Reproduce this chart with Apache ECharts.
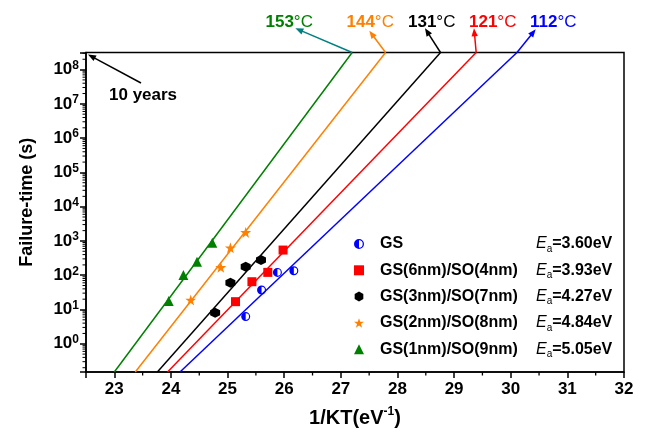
<!DOCTYPE html>
<html><head><meta charset="utf-8">
<script src="https://cdn.jsdelivr.net/npm/echarts@6/dist/echarts.min.js"></script>
<style>html,body{margin:0;padding:0;background:#fff}#c{width:646px;height:434px}</style>
</head><body><div id="c"></div>
<script>
const FONT = '"Liberation Sans", Arial, sans-serif';

// ---- data ----
const seriesNames = ['GS', 'GS(6nm)/SO(4nm)', 'GS(3nm)/SO(7nm)', 'GS(2nm)/SO(8nm)', 'GS(1nm)/SO(9nm)'];
const activationEnergies = ['3.60eV', '3.93eV', '4.27eV', '4.84eV', '5.05eV'];
const gsPoints  = [[25.32, 6.2], [25.60, 37], [25.88, 121], [26.17, 135]];
const gs6Points = [[25.14, 16.9], [25.43, 64.6], [25.71, 121], [25.98, 542]];
const gs3Points = [[24.78, 8.05], [25.05, 60], [25.32, 177], [25.59, 277]];
const gs2Points = [[24.35, 18.9], [24.88, 170], [25.05, 632], [25.32, 1778]];
const gs1Points = [[23.96, 17.7], [24.22, 101], [24.46, 247], [24.73, 885]];
const yMin = 0.15, yMax = 3.15e8;   // top = 10 years
const xMin = 22.5, xMax = 32;
// fitted lines: x at bottom (yMin) and x at top (yMax)
const fitBottomX = [24.16, 23.94, 23.76, 23.37, 23.00];
const fitTopX    = [30.11, 29.39, 28.76, 27.79, 27.20];
const tempLabels = ['112', '121', '131', '144', '153'];
const xMinorTicks = [23.5, 24.5, 25.5, 26.5, 27.5, 28.5, 29.5, 30.5, 31.5];
const yDecades = [-1, 0, 1, 2, 3, 4, 5, 6, 7, 8];
const yMinorMultipliers = [2, 3, 4, 5, 6, 7, 8, 9];

// ---- styles ----
const colors = ['#0000ff', '#ff0000', '#000000', '#ff8000', '#008000'];
const arrowColors = ['#0000ff', '#ff0000', '#000000', '#ff8000', '#008080'];
const halfCircle = 'path://M10 0 A10 10 0 0 1 10 20 A10 10 0 0 1 10 0 Z M10 2.6 A7.4 7.4 0 0 0 10 17.4 A7.4 7.4 0 0 0 10 2.6 Z M10 17.4 A7.4 7.4 0 0 1 10 2.6 Z';
const hexagon = 'path://M5 0 L9.33 2.5 L9.33 7.5 L5 10 L0.67 7.5 L0.67 2.5 Z';
const star = 'path://M50 0 L61.8 35.1 L98.9 35.4 L69.1 57.6 L80.3 93 L50 71.5 L19.7 93 L30.9 57.6 L1.1 35.4 L38.2 35.1 Z';
const symbols = [halfCircle, 'rect', hexagon, star, 'triangle'];
const symbolSizes = [9, 9, 10, 11, 10];
const pointSets = [gsPoints, gs6Points, gs3Points, gs2Points, gs1Points];
// label layout (pixels): text left, arrow tip
const labelLeft = [530, 469, 408, 346.5, 265.5];
const arrowTip = [[535.7, 29.3], [474, 28.3], [425, 28.3], [369.3, 30.7], [295.4, 28.3]];

const yMinorValues = [];
yDecades.forEach(e => yMinorMultipliers.forEach(k => {
  const v = k * Math.pow(10, e);
  if (v > yMin && v < yMax) yMinorValues.push(v);
}));

const chart = echarts.init(document.getElementById('c'), null, {renderer: 'canvas'});

const series = [];
fitBottomX.forEach((bx, i) => {
  series.push({
    type: 'line', name: 'fit' + i, data: [[bx, yMin], [fitTopX[i], yMax]],
    showSymbol: false, symbol: 'none', silent: true, z: 2,
    lineStyle: {color: colors[i], width: 1.5}
  });
});
pointSets.forEach((pts, i) => {
  series.push({
    type: 'scatter', name: seriesNames[i], data: pts, symbol: symbols[i],
    symbolSize: symbolSizes[i], z: 5,
    itemStyle: {color: colors[i], opacity: 1}
  });
});
series.push({
  type: 'custom', name: 'yminor', silent: true, clip: false, z: 3,
  data: yMinorValues.map(v => [xMin, v]),
  renderItem: (params, api) => {
    const p = api.coord([api.value(0), api.value(1)]);
    return {type: 'line', shape: {x1: p[0] - 3.5, y1: p[1], x2: p[0], y2: p[1]}, style: {stroke: '#000', lineWidth: 1}};
  }
});
series.push({
  type: 'custom', name: 'xminor', silent: true, clip: false, z: 3,
  data: xMinorTicks.map(v => [v, yMin]),
  renderItem: (params, api) => {
    const p = api.coord([api.value(0), api.value(1)]);
    return {type: 'line', shape: {x1: p[0], y1: p[1], x2: p[0], y2: p[1] + 3.5}, style: {stroke: '#000', lineWidth: 1.3}};
  }
});

const option = {
  backgroundColor: '#fff',
  animation: false,
  textStyle: {fontFamily: FONT},
  grid: {left: 86, right: 22, top: 52.5, bottom: 62, show: true, borderColor: '#000', borderWidth: 1.5, backgroundColor: 'transparent'},
  xAxis: {
    type: 'value', min: xMin, max: xMax, splitNumber: 10,
    axisLine: {lineStyle: {color: '#000', width: 1.5}},
    axisTick: {show: true, length: 6, lineStyle: {color: '#000', width: 1.5}},
    splitLine: {show: false},
    axisLabel: {
      margin: 9, color: '#000', fontSize: 17, fontWeight: 'bold', fontFamily: FONT,
      formatter: v => (Math.abs(v - Math.round(v)) < 1e-6 ? String(Math.round(v)) : '')
    },
    name: '{b|1/KT(eV}{p|-1}{b|)}', nameLocation: 'middle', nameGap: 34,
    nameTextStyle: {
      color: '#000', fontFamily: FONT,
      rich: {
        b: {fontSize: 20, fontWeight: 'bold', fontFamily: FONT, color: '#000', lineHeight: 24},
        p: {fontSize: 12, fontWeight: 'bold', fontFamily: FONT, color: '#000', verticalAlign: 'top', lineHeight: 14}
      }
    }
  },
  yAxis: {
    type: 'log', logBase: 10, min: yMin, max: yMax, splitNumber: 10,
    axisLine: {lineStyle: {color: '#000', width: 1.5}},
    axisTick: {show: true, length: 6, lineStyle: {color: '#000', width: 1.5}},
    splitLine: {show: false},
    minorTick: {show: false},
    axisLabel: {
      margin: 7, color: '#000', fontFamily: FONT,
      formatter: v => {
        const l = Math.log10(v);
        if (Math.abs(l - Math.round(l)) > 1e-6) return '';
        return '{b|10}{p|' + Math.round(l) + '}';
      },
      rich: {
        b: {fontSize: 17, fontWeight: 'bold', fontFamily: FONT, color: '#000', lineHeight: 20},
        p: {fontSize: 12, fontWeight: 'bold', fontFamily: FONT, color: '#000', verticalAlign: 'top', lineHeight: 12}
      }
    },
    name: 'Failure-time (s)', nameLocation: 'middle', nameGap: 50, nameRotate: 90,
    nameTextStyle: {color: '#000', fontSize: 18, fontWeight: 'bold', fontFamily: FONT, padding: [0, 0, 0, 20]}
  },
  legend: {
    data: seriesNames.map((n, i) => ({name: n, icon: symbols[i]})),
    orient: 'vertical', left: 349, top: 231, itemGap: 8.3,
    itemWidth: 10, itemHeight: 10, selectedMode: false,
    formatter: name => {
      const i = seriesNames.indexOf(name);
      return '{n|' + name + '}{e|E}{s|a}{v|=' + activationEnergies[i] + '}';
    },
    textStyle: {
      color: '#000', fontFamily: FONT,
      rich: {
        n: {fontSize: 16, fontWeight: 'bold', fontFamily: FONT, color: '#000', width: 156, padding: [0, 0, 0, 11], lineHeight: 20},
        e: {fontSize: 16, fontStyle: 'italic', fontFamily: FONT, color: '#000', lineHeight: 20},
        s: {fontSize: 10, fontFamily: FONT, color: '#000', verticalAlign: 'bottom', lineHeight: 8},
        v: {fontSize: 16, fontWeight: 'bold', fontFamily: FONT, color: '#000', lineHeight: 20}
      }
    }
  },
  series: series
};
chart.setOption(option);

// ---- annotations (arrows + temperature labels) ----
function arrowHead(x1, y1, x2, y2, color) {
  const dx = x2 - x1, dy = y2 - y1, len = Math.sqrt(dx * dx + dy * dy);
  const ux = dx / len, uy = dy / len, L = 8, W = 3.2;
  const bx = x2 - ux * L, by = y2 - uy * L;
  return {type: 'polygon', z: 10, silent: true,
    shape: {points: [[x2, y2], [bx - uy * W, by + ux * W], [bx + uy * W, by - ux * W]]},
    style: {fill: color}};
}
function arrow(x1, y1, x2, y2, color) {
  const dx = x2 - x1, dy = y2 - y1, len = Math.sqrt(dx * dx + dy * dy);
  const ex = x2 - dx / len * 6, ey = y2 - dy / len * 6;
  return [
    {type: 'line', z: 10, silent: true, shape: {x1: x1, y1: y1, x2: ex, y2: ey}, style: {stroke: color, lineWidth: 1.5}},
    arrowHead(x1, y1, x2, y2, color)
  ];
}
const graphics = [];
fitTopX.forEach((tx, i) => {
  const p = chart.convertToPixel({gridIndex: 0}, [tx, yMax]);
  graphics.push(...arrow(p[0], p[1], arrowTip[i][0], arrowTip[i][1], arrowColors[i]));
  graphics.push({
    type: 'text', z: 10, silent: true, x: labelLeft[i], y: 22.5,
    style: {
      text: '{b|' + tempLabels[i] + '}{c|°C}', verticalAlign: 'middle', align: 'left',
      rich: {
        b: {fontSize: 17, fontWeight: 'bold', fontFamily: FONT, fill: colors[i]},
        c: {fontSize: 17, fontFamily: FONT, fill: colors[i]}
      }
    }
  });
});
const corner = chart.convertToPixel({gridIndex: 0}, [xMin, yMax]);
graphics.push(...arrow(141, 83, corner[0] + 2, corner[1] + 2, '#000'));
graphics.push({
  type: 'text', z: 10, silent: true, x: 109, y: 95,
  style: {text: '10 years', verticalAlign: 'middle', align: 'left', fontSize: 17, fontWeight: 'bold', fontFamily: FONT, fill: '#000'}
});
chart.setOption({graphic: graphics});
</script>
</body></html>
